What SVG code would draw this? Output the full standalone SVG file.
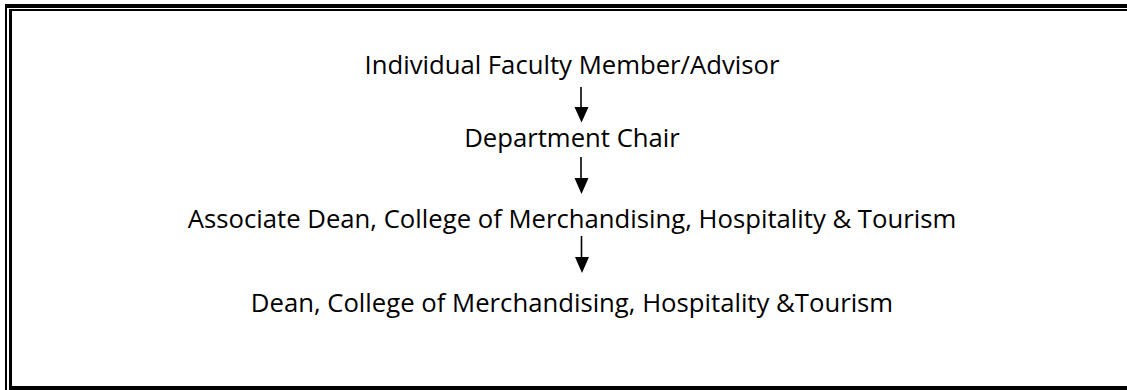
<svg xmlns="http://www.w3.org/2000/svg" width="1127" height="390" viewBox="0 0 1127 390">
  <style>
    .lbl { font-family: "Open Sans", Lato, "Liberation Sans", sans-serif; font-size: 25.7px; fill: #000; text-anchor: middle; }
    .frame { fill: #000; }
    .conn line { stroke: #000; stroke-width: 1.6; }
  </style>
  <rect width="1127" height="390" fill="#fff"/>
  <g id="frame">
    <rect class="frame" x="5" y="4" width="1122" height="4"/>
    <rect class="frame" x="9" y="9" width="1118" height="2"/>
    <rect class="frame" x="5" y="4" width="2" height="386"/>
    <rect class="frame" x="9" y="9" width="3" height="381"/>
    <rect class="frame" x="9" y="386" width="1118" height="4"/>
  </g>
  <g id="connectors" class="conn">
    <line x1="581" y1="87" x2="581" y2="108"/>
    <path d="M574.5,107 L588.5,107 L581.5,122.5 Z" fill="#000"/>
    <line x1="581" y1="157" x2="581" y2="179"/>
    <path d="M574.5,178 L588.5,178 L581.5,194 Z" fill="#000"/>
    <line x1="581.5" y1="236" x2="581.5" y2="258"/>
    <path d="M575,257 L589,257 L582,273 Z" fill="#000"/>
  </g>
  <g id="n1"><text class="lbl" x="572" y="74">Individual Faculty Member/Advisor</text></g>
  <g id="n2"><text class="lbl" x="572" y="147">Department Chair</text></g>
  <g id="n3"><text class="lbl" x="572" y="228">Associate Dean, College of Merchandising, Hospitality &amp; Tourism</text></g>
  <g id="n4"><text class="lbl" x="572" y="312">Dean, College of Merchandising, Hospitality &amp;Tourism</text></g>
</svg>
